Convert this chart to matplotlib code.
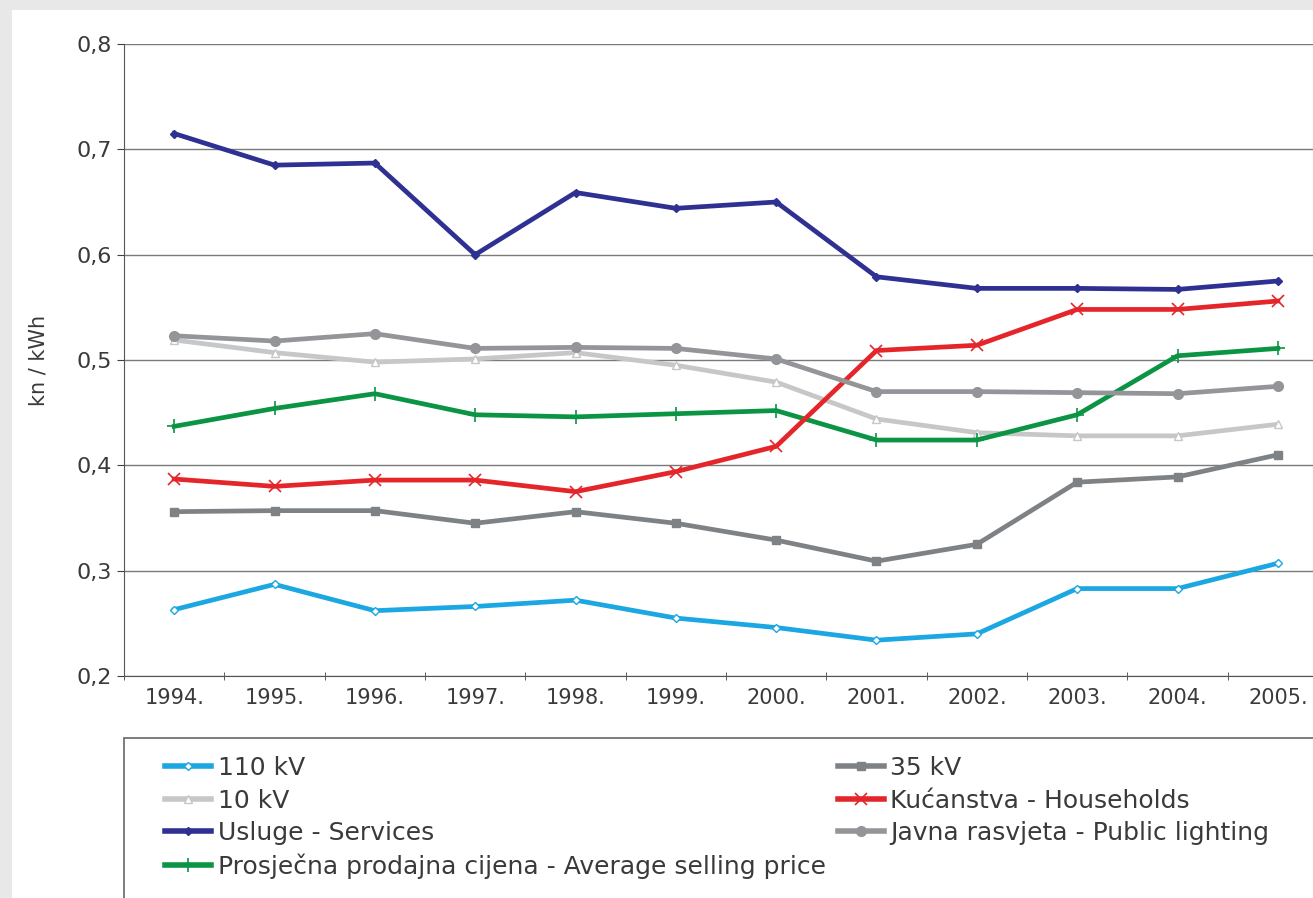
import matplotlib
matplotlib.use("Agg")
import matplotlib.pyplot as plt
from matplotlib.lines import Line2D
from matplotlib.patches import Rectangle

years = [1994, 1995, 1996, 1997, 1998, 1999, 2000, 2001, 2002, 2003, 2004, 2005]
kv110 = [0.263, 0.287, 0.262, 0.266, 0.272, 0.255, 0.246, 0.234, 0.240, 0.283, 0.283, 0.307]
kv35 = [0.356, 0.357, 0.357, 0.345, 0.356, 0.345, 0.329, 0.309, 0.325, 0.384, 0.389, 0.410]
kv10 = [0.519, 0.507, 0.498, 0.501, 0.507, 0.495, 0.479, 0.444, 0.431, 0.428, 0.428, 0.439]
households = [0.387, 0.380, 0.386, 0.386, 0.375, 0.394, 0.418, 0.509, 0.514, 0.548, 0.548, 0.556]
services = [0.715, 0.685, 0.687, 0.600, 0.659, 0.644, 0.650, 0.579, 0.568, 0.568, 0.567, 0.575]
lighting = [0.523, 0.518, 0.525, 0.511, 0.512, 0.511, 0.501, 0.470, 0.470, 0.469, 0.468, 0.475]
average = [0.437, 0.454, 0.468, 0.448, 0.446, 0.449, 0.452, 0.424, 0.424, 0.448, 0.504, 0.511]

fig = plt.figure(figsize=(13.13, 8.98), dpi=100)
fig.patch.set_facecolor("#e8e8e8")
# white panel
fig.patches.append(Rectangle((12/1313, 0), 1, 1 - 10/898, transform=fig.transFigure,
                             facecolor="white", edgecolor="none", zorder=-5))

ax = fig.add_axes([124/1313, 222/898, 1204/1313, 632/898])
ax.set_facecolor("none")
x = list(range(len(years)))

series = [
    ("110 kV", kv110, "#1ba7e1", dict(marker="D", ms=4, mfc="white", mec="#1ba7e1")),
    ("10 kV", kv10, "#c6c7c9", dict(marker="^", ms=6, mfc="white", mec="#c6c7c9")),
    ("Usluge - Services", services, "#2e3192", dict(marker="D", ms=4.5)),
    ("Prosječna prodajna cijena - Average selling price", average, "#0b9444", dict(marker="+", ms=10, mew=1.2)),
    ("35 kV", kv35, "#7f8285", dict(marker="s", ms=6)),
    ("Kućanstva - Households", households, "#e4262b", dict(marker="x", ms=8, mew=1.2)),
    ("Javna rasvjeta - Public lighting", lighting, "#939598", dict(marker="o", ms=7)),
]

handles = []
for name, vals, col, mk in series:
    ax.plot(x, vals, color=col, lw=3.4, zorder=3, clip_on=False, **mk)
    handles.append(Line2D([], [], color=col, lw=4, **mk))

ax.set_xlim(-0.5, 11.5)
ax.set_ylim(0.2, 0.8)
ax.set_yticks([0.2, 0.3, 0.4, 0.5, 0.6, 0.7, 0.8])
ax.set_yticklabels(["0,2", "0,3", "0,4", "0,5", "0,6", "0,7", "0,8"])
ax.set_xticks(x)
ax.set_xticklabels([f"{y}." for y in years])
ax.set_xticks([i - 0.5 for i in range(13)], minor=True)
ax.tick_params(axis="x", which="major", length=0, pad=9, labelsize=15, labelcolor="#3a3a3a")
ax.tick_params(axis="x", which="minor", length=6, direction="inout", color="#404040")
ax.tick_params(axis="y", length=5, color="#404040", labelsize=16, labelcolor="#3a3a3a", pad=4)
ax.grid(axis="y", color="#7a7a7a", lw=1, zorder=1)
for s in ["top", "right"]:
    ax.spines[s].set_visible(False)
for s in ["left", "bottom"]:
    ax.spines[s].set_color("#555555")
ax.set_ylabel("kn / kWh", fontsize=15, color="#3a3a3a", labelpad=20)

# legend frame
fig.patches.append(Rectangle((124/1313, -0.1), 1.0, 0.1 + (898-738)/898, transform=fig.transFigure,
                             facecolor="none", edgecolor="#666666", lw=1.2, zorder=2))
lkw = dict(frameon=False, fontsize=18, handlelength=1.85, handletextpad=0.25, labelspacing=0.34,
           labelcolor="#3a3a3a", borderpad=0, borderaxespad=0)
leg1 = fig.legend(handles[:4], [s[0] for s in series[:4]], loc="upper left",
                  bbox_to_anchor=(165/1313, 1 - 756/898), **lkw)
leg2 = fig.legend(handles[4:], [s[0] for s in series[4:]], loc="upper left",
                  bbox_to_anchor=(838/1313, 1 - 756/898), **lkw)

fig.savefig("out.png", dpi=100, facecolor=fig.get_facecolor())
